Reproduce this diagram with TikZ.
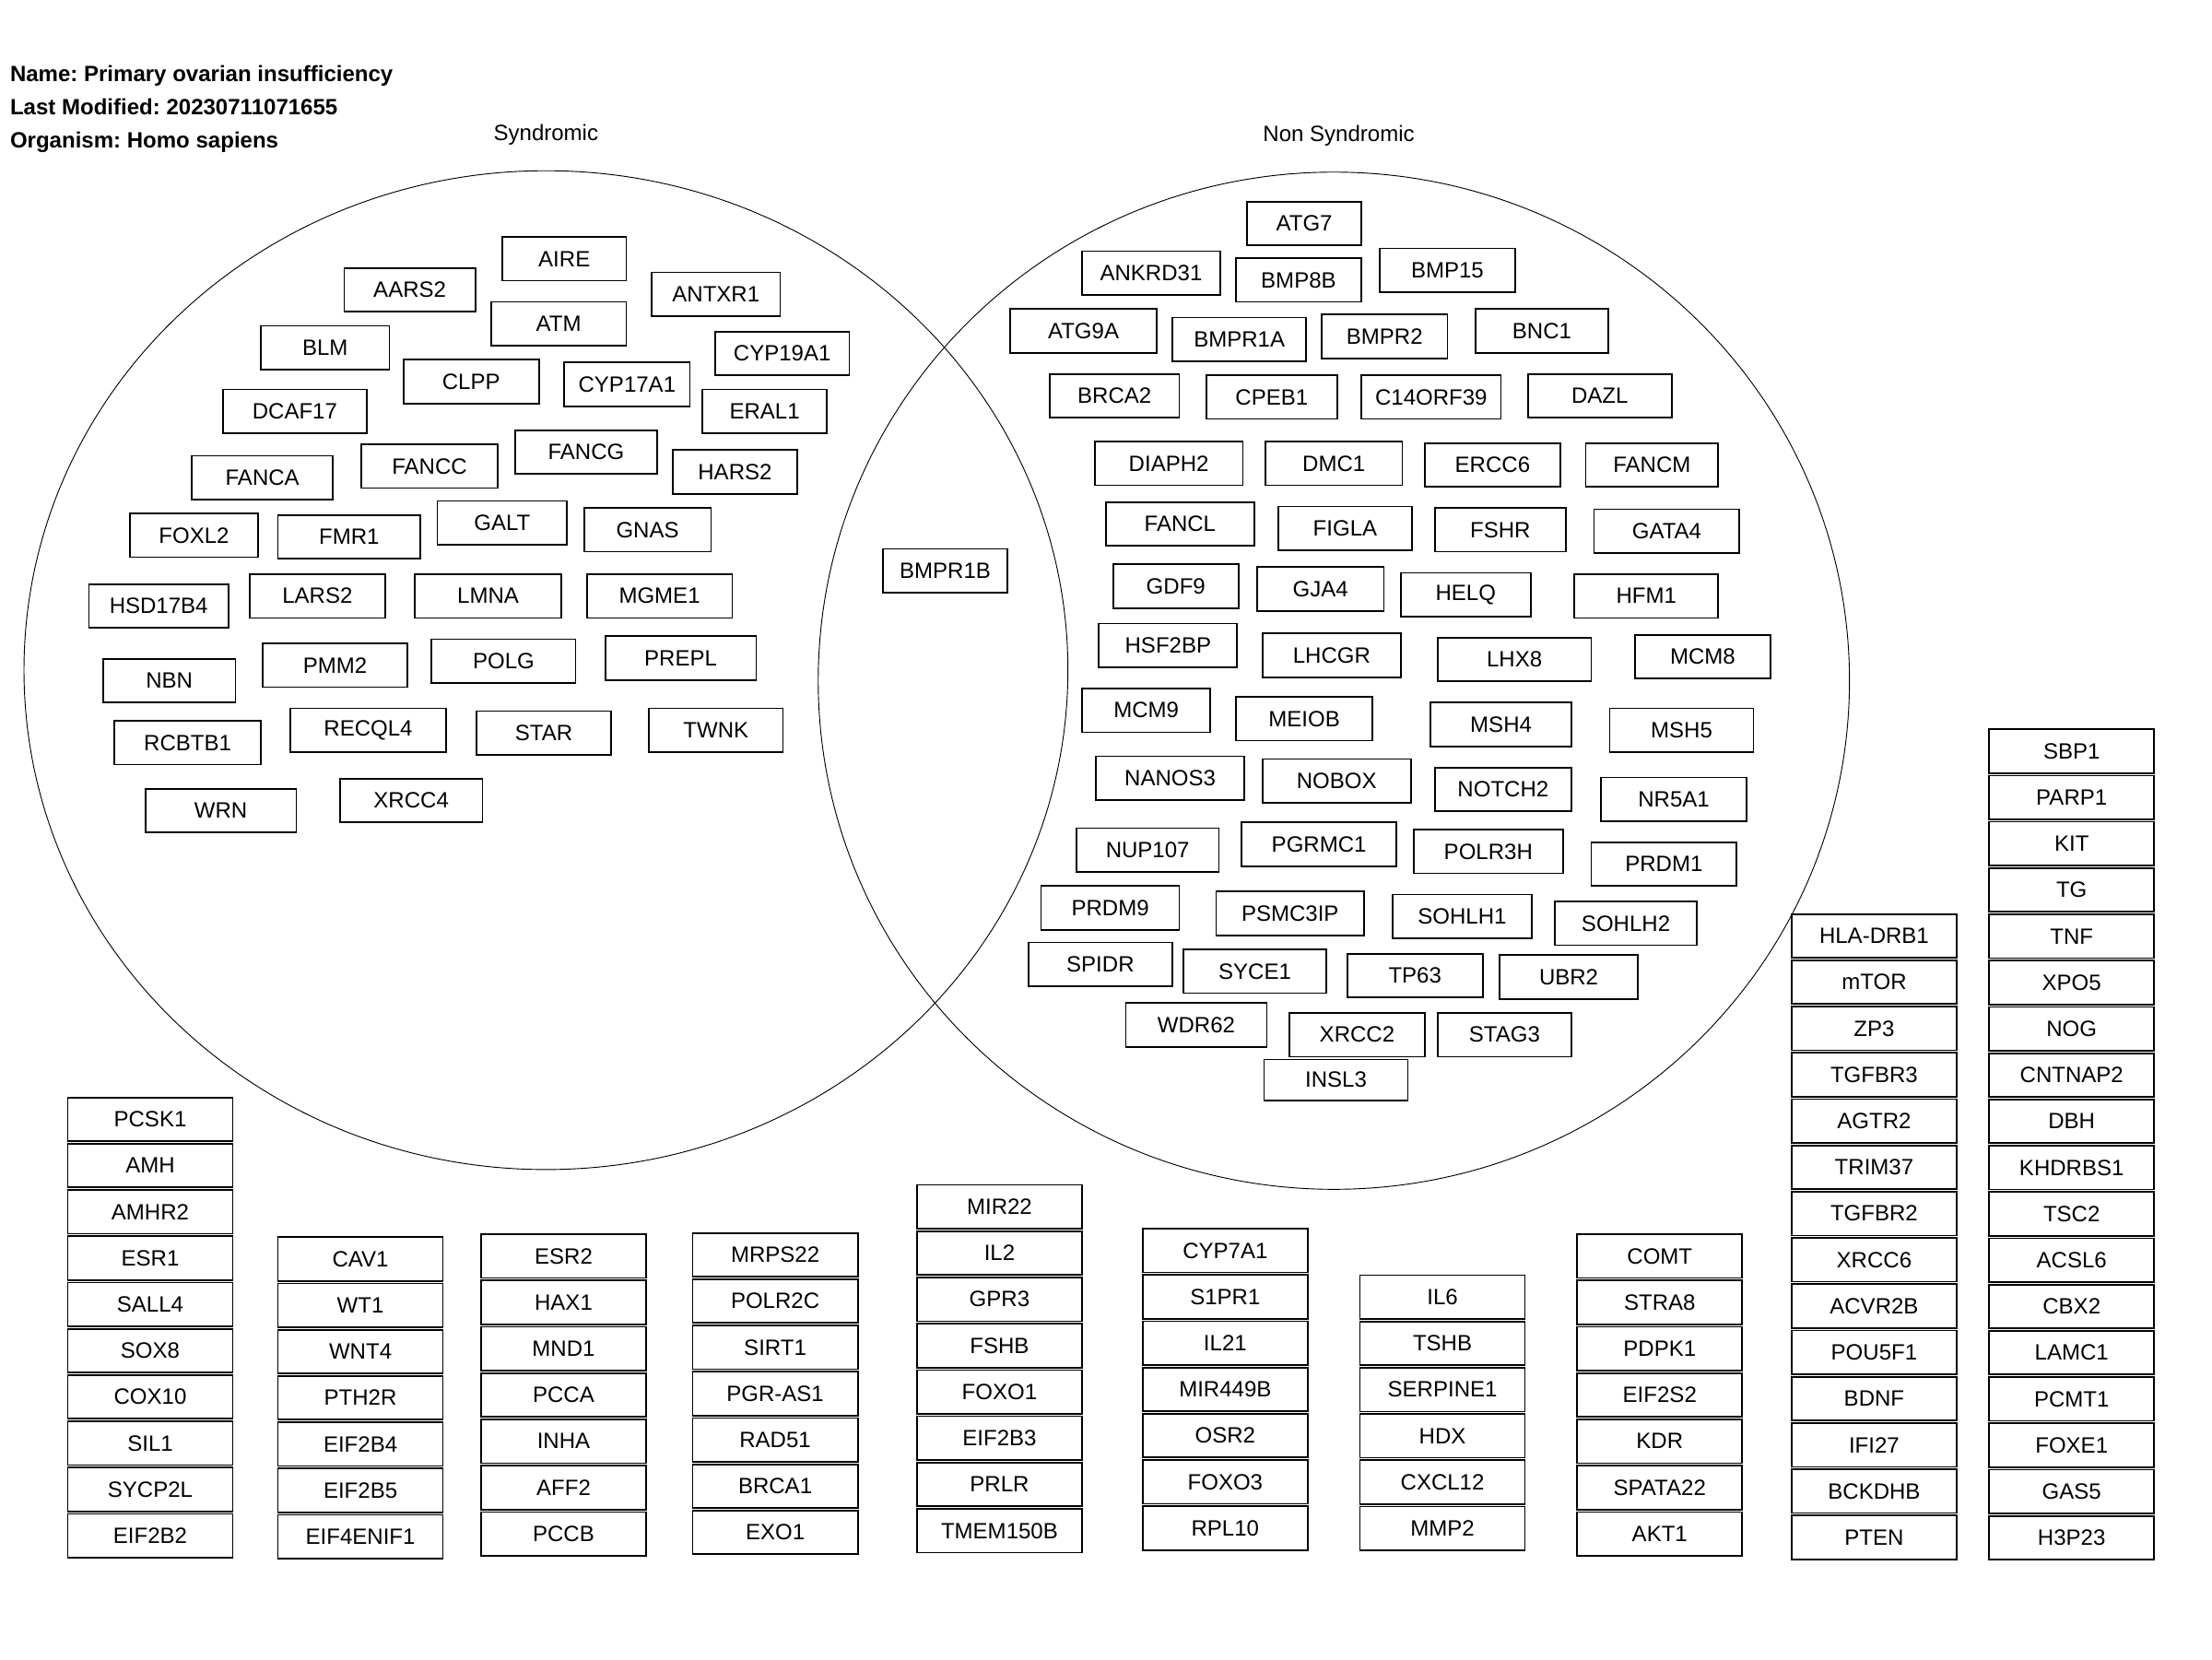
\documentclass[tikz,border=0pt]{standalone}
\usepackage{fontspec}
\setmainfont{Liberation Sans}
\begin{document}
\frenchspacing
\begin{tikzpicture}[x=1pt,y=-1pt,
  gene/.style={draw=black,line width=1.15pt,inner sep=0pt,outer sep=0pt,font=\fontsize{15.7}{17}\selectfont,text=black},
  cell/.style={gene,minimum width=117,minimum height=31},
  venn/.style={draw=black,line width=0.6pt},
  ttl/.style={anchor=base west,inner sep=0pt,font=\fontsize{15.7}{17}\selectfont\bfseries},
  lbl/.style={inner sep=0pt,font=\fontsize{15.7}{17}\selectfont}]
\useasboundingbox (0,0) rectangle (1568,1176);
\newcommand\gb[6]{\node[gene,minimum width={#4-#2},minimum height={#5-#3}] (#1) at ({(#2+#4)/2},{(#3+#5)/2}) {#6};}
% titles
\node[ttl] (tname) at (7,57.5) {Name: Primary ovarian insufficiency};
\node[ttl] (tmod) at (7,81.5) {Last Modified: 20230711071655};
\node[ttl] (torg) at (7,104.6) {Organism: Homo sapiens};
\node[lbl] (lsyn) at (387,95.5) {Syndromic};
\node[lbl] (lnon) at (949,96.5) {Non Syndromic};
% venn
\draw[venn] (387,475) ellipse [x radius=370,y radius=354];
\draw[venn] (945.5,482.5) ellipse [x radius=365.5,y radius=360.5];
% syndromic
\gb{AIRE}{356}{168}{444}{199}{AIRE}
\gb{AARS2}{244}{190}{337}{221}{AARS2}
\gb{ANTXR1}{462}{193}{553}{224}{ANTXR1}
\gb{ATM}{348}{214}{444}{245}{ATM}
\gb{BLM}{185}{231}{276}{262}{BLM}
\gb{CYP19A1}{507}{235}{602}{266}{CYP19A1}
\gb{CLPP}{286}{255}{382}{286}{CLPP}
\gb{CYP17A1}{400}{257}{489}{288}{CYP17A1}
\gb{DCAF17}{158}{276}{260}{307}{DCAF17}
\gb{ERAL1}{498}{276}{586}{307}{ERAL1}
\gb{FANCG}{365}{305}{466}{336}{FANCG}
\gb{FANCC}{256}{315}{353}{346}{FANCC}
\gb{FANCA}{136}{323}{236}{354}{FANCA}
\gb{HARS2}{477}{319}{565}{350}{HARS2}
\gb{GALT}{310}{355}{402}{386}{GALT}
\gb{GNAS}{414}{360}{504}{391}{GNAS}
\gb{FOXL2}{92}{364}{183}{395}{FOXL2}
\gb{FMR1}{197}{365}{298}{396}{FMR1}
\gb{HSD17B4}{63}{414}{162}{445}{HSD17B4}
\gb{LARS2}{177}{407}{273}{438}{LARS2}
\gb{LMNA}{294}{407}{398}{438}{LMNA}
\gb{MGME1}{416}{407}{519}{438}{MGME1}
\gb{PREPL}{429}{451}{536}{482}{PREPL}
\gb{POLG}{306}{453}{408}{484}{POLG}
\gb{PMM2}{186}{456}{289}{487}{PMM2}
\gb{NBN}{73}{467}{167}{498}{NBN}
\gb{RCBTB1}{81}{511}{185}{542}{RCBTB1}
\gb{RECQL4}{206}{502}{316}{533}{RECQL4}
\gb{STAR}{338}{504}{433}{535}{STAR}
\gb{TWNK}{460}{502}{555}{533}{TWNK}
\gb{WRN}{103}{559}{210}{590}{WRN}
\gb{XRCC4}{241}{552}{342}{583}{XRCC4}
% both
\gb{BMPR1B}{626}{389}{714}{420}{BMPR1B}
% non syndromic
\gb{ATG7}{884}{143}{965}{174}{ATG7}
\gb{ANKRD31}{767}{178}{865}{209}{ANKRD31}
\gb{BMP8B}{876}{183}{965}{214}{BMP8B}
\gb{BMP15}{978}{176}{1074}{207}{BMP15}
\gb{ATG9A}{716}{219}{820}{250}{ATG9A}
\gb{BMPR1A}{831}{225}{926}{256}{BMPR1A}
\gb{BMPR2}{937}{223}{1026}{254}{BMPR2}
\gb{BNC1}{1046}{219}{1140}{250}{BNC1}
\gb{BRCA2}{744}{265}{836}{296}{BRCA2}
\gb{CPEB1}{855}{266}{948}{297}{CPEB1}
\gb{C14ORF39}{965}{266}{1064}{297}{C14ORF39}
\gb{DAZL}{1083}{265}{1185}{296}{DAZL}
\gb{DIAPH2}{776}{313}{881}{344}{DIAPH2}
\gb{DMC1}{897}{313}{994}{344}{DMC1}
\gb{ERCC6}{1010}{314}{1106}{345}{ERCC6}
\gb{FANCM}{1124}{314}{1218}{345}{FANCM}
\gb{FANCL}{784}{356}{889}{387}{FANCL}
\gb{FIGLA}{906}{359}{1001}{390}{FIGLA}
\gb{FSHR}{1017}{360}{1110}{391}{FSHR}
\gb{GATA4}{1130}{361}{1233}{392}{GATA4}
\gb{GDF9}{789}{400}{878}{431}{GDF9}
\gb{GJA4}{891}{402}{981}{433}{GJA4}
\gb{HELQ}{993}{406}{1085}{437}{HELQ}
\gb{HFM1}{1116}{407}{1218}{438}{HFM1}
\gb{HSF2BP}{779}{442}{877}{473}{HSF2BP}
\gb{LHCGR}{895}{449}{993}{480}{LHCGR}
\gb{LHX8}{1019}{452}{1128}{483}{LHX8}
\gb{MCM8}{1159}{450}{1255}{481}{MCM8}
\gb{MCM9}{767}{488}{858}{519}{MCM9}
\gb{MEIOB}{876}{494}{973}{525}{MEIOB}
\gb{MSH4}{1014}{498}{1114}{529}{MSH4}
\gb{MSH5}{1141}{502}{1243}{533}{MSH5}
\gb{NANOS3}{777}{536}{882}{567}{NANOS3}
\gb{NOBOX}{895}{538}{1000}{569}{NOBOX}
\gb{NOTCH2}{1017}{544}{1114}{575}{NOTCH2}
\gb{NR5A1}{1135}{551}{1238}{582}{NR5A1}
\gb{NUP107}{763}{587}{864}{618}{NUP107}
\gb{PGRMC1}{880}{583}{990}{614}{PGRMC1}
\gb{POLR3H}{1002}{588}{1108}{619}{POLR3H}
\gb{PRDM1}{1128}{597}{1231}{628}{PRDM1}
\gb{PRDM9}{738}{628}{836}{659}{PRDM9}
\gb{PSMC3IP}{862}{632}{967}{663}{PSMC3IP}
\gb{SOHLH1}{987}{634}{1086}{665}{SOHLH1}
\gb{SOHLH2}{1102}{639}{1203}{670}{SOHLH2}
\gb{SPIDR}{729}{668}{831}{699}{SPIDR}
\gb{SYCE1}{839}{673}{940}{704}{SYCE1}
\gb{TP63}{955}{676}{1051}{707}{TP63}
\gb{UBR2}{1063}{677}{1161}{708}{UBR2}
\gb{WDR62}{798}{711}{898}{742}{WDR62}
\gb{XRCC2}{914}{718}{1010}{749}{XRCC2}
\gb{STAG3}{1019}{718}{1114}{749}{STAG3}
\gb{INSL3}{896}{751}{998}{780}{INSL3}
% stacked columns
\newcommand\stackcol[4]{%
  \foreach \t [count=\i from 0] in {#4} {%
    \node[cell] (#1-\i) at ({#2+58.5},{#3+16.4+32.8*\i}) {\t};}}
\stackcol{ca}{48}{777}{PCSK1,AMH,AMHR2,ESR1,SALL4,SOX8,COX10,SIL1,SYCP2L,EIF2B2}
\stackcol{cb}{197}{876}{CAV1,WT1,WNT4,PTH2R,EIF2B4,EIF2B5,EIF4ENIF1}
\stackcol{cc}{341}{874}{ESR2,HAX1,MND1,PCCA,INHA,AFF2,PCCB}
\stackcol{cd}{491}{873}{MRPS22,POLR2C,SIRT1,PGR-AS1,RAD51,BRCA1,EXO1}
\stackcol{ce}{650}{839}{MIR22,IL2,GPR3,FSHB,FOXO1,EIF2B3,PRLR,TMEM150B}
\stackcol{cf}{810}{870}{CYP7A1,S1PR1,IL21,MIR449B,OSR2,FOXO3,RPL10}
\stackcol{cg}{964}{903}{IL6,TSHB,SERPINE1,HDX,CXCL12,MMP2}
\stackcol{ch}{1118}{874}{COMT,STRA8,PDPK1,EIF2S2,KDR,SPATA22,AKT1}
\stackcol{ci}{1270}{647}{HLA-DRB1,mTOR,ZP3,TGFBR3,AGTR2,TRIM37,TGFBR2,XRCC6,ACVR2B,POU5F1,BDNF,IFI27,BCKDHB,PTEN}
\stackcol{cj}{1410}{516}{SBP1,PARP1,KIT,TG,TNF,XPO5,NOG,CNTNAP2,DBH,KHDRBS1,TSC2,ACSL6,CBX2,LAMC1,PCMT1,FOXE1,GAS5,H3P23}
\end{tikzpicture}
\end{document}
